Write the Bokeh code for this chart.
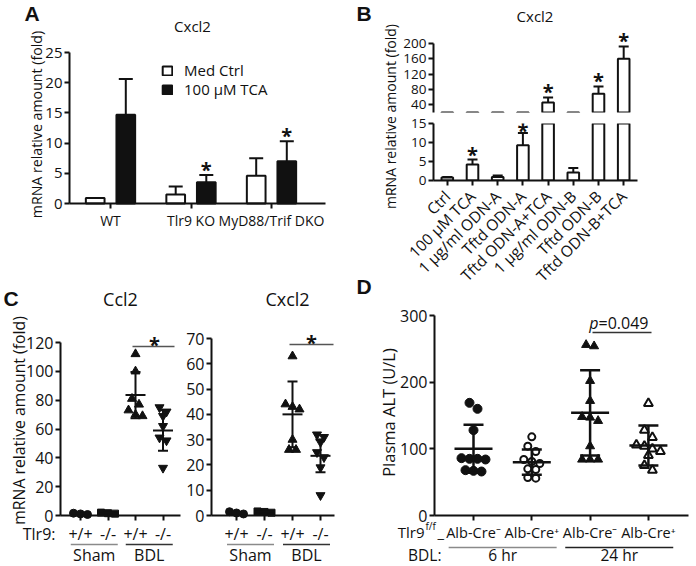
import math
import numpy as np
from bokeh.plotting import figure
from bokeh.layouts import row, column
from bokeh.models import Range1d, FixedTicker, Label, Arrow, Legend, LegendItem
from bokeh.embed import file_html
from bokeh.resources import INLINE
from bokeh.core.properties import value

# ------------------------------------------------------------------ data
# Panel A
a_groups = ["WT", "Tlr9 KO", "MyD88/Trif DKO"]
a_series = ["Med Ctrl", "100 μM TCA"]
a_ctrl_mean = [0.9, 1.5, 4.6]
a_ctrl_err = [0.0, 1.3, 2.9]
a_tca_mean = [14.7, 3.5, 7.0]
a_tca_err = [5.9, 1.2, 3.3]
a_tca_sig = [False, True, True]
a_yticks = [0, 5, 10, 15, 20, 25]
a_title = "Cxcl2"

# Panel B
b_cats = ["Ctrl", "100 μM TCA", "1 μg/ml ODN-A", "Tftd ODN-A", "Tftd ODN-A+TCA",
          "1 μg/ml ODN-B", "Tftd ODN-B", "Tftd ODN-B+TCA"]
b_mean = [0.8, 4.2, 0.9, 9.3, 46.0, 2.1, 69.0, 160.0]
b_err = [0.15, 1.3, 0.4, 3.2, 13.0, 1.2, 19.0, 32.0]
b_sig = [False, True, False, True, True, False, True, True]
b_low_ticks = [0, 5, 10, 15]
b_up_ticks = [40, 80, 120, 160, 200]
b_low_max = 15
b_up_min, b_up_max = 20, 200
b_title = "Cxcl2"

# Panel C
c_genotypes = ["+/+", "-/-", "+/+", "-/-"]
c_conditions = ["Sham", "BDL"]
c_prefix = "Tlr9:"
ccl2_points = [[0.7, 1.1, 1.6], [1.3, 1.6, 2.0],
               [112, 100, 81, 77, 73, 70, 69], [75, 72, 69, 62, 54, 52, 33]]
ccl2_mean = [1.1, 1.6, 83.5, 59.0]
ccl2_sd = [0.4, 0.3, 16.0, 14.0]
ccl2_yticks = [0, 20, 40, 60, 80, 100, 120]
cxcl2_points = [[0.6, 1.0, 1.5], [1.1, 1.4, 1.6],
                [63, 44, 43, 42, 30, 26, 26], [32, 31, 29, 25, 23, 19, 8]]
cxcl2_mean = [1.0, 1.4, 40.0, 23.6]
cxcl2_sd = [0.4, 0.2, 13.0, 6.5]
cxcl2_yticks = [0, 10, 20, 30, 40, 50, 60, 70]
c_titles = ["Ccl2", "Cxcl2"]

# Panel D
d_genotypes = ["Alb-Cre⁻", "Alb-Cre⁺", "Alb-Cre⁻", "Alb-Cre⁺"]
d_times = ["6 hr", "24 hr"]
d_points = [[169, 160, 128, 86, 85, 85, 84, 68, 67, 66],
            [118, 104, 96, 84, 81, 78, 70, 69, 57, 56],
            [256, 254, 202, 172, 148, 147, 142, 104, 84, 84, 84],
            [168, 128, 117, 106, 104, 100, 96, 90, 75, 68]]
d_mean = [100.0, 80.0, 154.0, 105.0]
d_sd = [36.0, 19.0, 64.0, 30.0]
d_yticks = [0, 100, 200, 300]
d_pvalue = "=0.049"

y_label = "mRNA relative amount (fold)"
d_ylabel = "Plasma ALT (U/L)"

# ------------------------------------------------------------------ style
FONT = "Open Sans"
LETTER_FONT = "Liberation Sans"
INK = "#111111"
GRAY = "#8a8a8a"


class Map:
    """page px -> data coords, given where the axes box (L,T,R,B) sits"""
    def __init__(self, frame, xr, yr):
        self.L, self.T, self.R, self.B = frame
        self.xr, self.yr = xr, yr

    def x(self, sx):
        return self.xr[0] + (sx - self.L) * (self.xr[1] - self.xr[0]) / (self.R - self.L)

    def y(self, sy):
        return self.yr[0] + (self.B - sy) * (self.yr[1] - self.yr[0]) / (self.B - self.T)

    def k(self):
        return (self.B - self.T) / (self.yr[1] - self.yr[0])

    def sy(self, y):
        return self.B - (y - self.yr[0]) * self.k()


def base_fig(p):
    p.grid.visible = False
    p.outline_line_color = None
    p.background_fill_color = "white"
    p.border_fill_color = "white"
    return p


def make_fig(box, frame, xr, yr, **kw):
    """ordinary figure: frame = axes box, axes in side panels"""
    fl, ft, fw, fh = box
    L, T, R, B = frame
    p = figure(width=fw, height=fh, x_range=Range1d(*xr), y_range=Range1d(*yr),
               output_backend="svg", toolbar_location=None, title=None,
               min_border_left=L - fl, min_border_right=fl + fw - R,
               min_border_top=T - ft, min_border_bottom=ft + fh - B, **kw)
    return base_fig(p), Map(frame, xr, yr)


def make_full(box, frame, xr, yr):
    """frame covers the whole canvas; axes drawn at fixed locations"""
    fl, ft, fw, fh = box
    m = Map(frame, xr, yr)
    p = figure(width=fw, height=fh,
               x_range=Range1d(m.x(fl), m.x(fl + fw)),
               y_range=Range1d(m.y(ft + fh), m.y(ft)),
               output_backend="svg", toolbar_location=None, title=None, min_border=0)
    base_fig(p)
    p.xaxis[0].fixed_location = yr[0]
    p.yaxis[0].fixed_location = xr[0]
    p.xaxis[0].bounds = tuple(xr)
    p.yaxis[0].bounds = tuple(yr)
    return p, m


def style_axis(ax, size, lw=2, standoff=2):
    ax.axis_line_color = INK
    ax.axis_line_width = lw
    ax.major_tick_line_color = INK
    ax.major_tick_line_width = lw
    ax.major_tick_in = 0
    ax.major_tick_out = 5
    ax.minor_tick_line_color = None
    ax.major_label_text_font = FONT
    ax.major_label_text_font_size = f"{size}px"
    ax.major_label_text_color = INK
    ax.major_label_standoff = standoff


def label(p, x, y, text, size, align="center", baseline="middle", angle=0.0,
          style="normal", font=FONT, color=INK):
    p.add_layout(Label(x=x, y=y, text=text, text_font=font, text_font_size=f"{size}px",
                       text_align=align, text_baseline=baseline, angle=angle,
                       text_font_style=style, text_color=color))


def hline(p, x0, x1, y, color, width=1.5):
    p.add_layout(Arrow(start=None, end=None, x_start=x0, y_start=y, x_end=x1, y_end=y,
                       line_color=color, line_width=width))


def up_err(p, xs, means, errs, cap, lw):
    keep = [i for i, e in enumerate(errs) if e > 0]
    xs2 = [xs[i] for i in keep]
    lo = [means[i] for i in keep]
    hi = [means[i] + errs[i] for i in keep]
    p.segment(x0=xs2, y0=lo, x1=xs2, y1=hi, line_color=INK, line_width=lw)
    p.scatter(x=xs2, y=hi, marker="dash", size=cap, line_color=INK, line_width=lw)


def stars(p, m, xs, tops, flags, lift_px=6, size=20, clamp=False):
    """asterisk just above each flagged error-bar top; kept inside the frame"""
    xs2, ys = [], []
    for x, t, f in zip(xs, tops, flags):
        if not f:
            continue
        lift = lift_px
        if clamp:
            lift = min(lift_px, (m.sy(t) - m.T) - 8)
        xs2.append(x)
        ys.append(t + lift / m.k())
    if not xs2:
        return
    p.text(x=xs2, y=ys, text=["*"] * len(xs2), text_font=value(FONT),
           text_font_size=f"{size}px", text_font_style="bold", text_align="center",
           text_baseline="alphabetic", text_color=INK)


def swarm_offsets(vals, k_px, spacing):
    order = sorted(range(len(vals)), key=lambda i: -vals[i])
    rows = []
    for i in order:
        if rows and (vals[rows[-1][0]] - vals[i]) * k_px < spacing:
            rows[-1].append(i)
        else:
            rows.append([i])
    offs = [0.0] * len(vals)
    for r in rows:
        n = len(r)
        for j, i in enumerate(r):
            offs[i] = (j - (n - 1) / 2) * spacing
    return offs


def dot_panel(p, step_px, k_px, points, means, sds, markers, fills, msize, lw_pt,
              spacing, mean_len, cap_len, lw):
    for i, vals in enumerate(points):
        offs = swarm_offsets(vals, k_px, spacing)
        xs = [i + o / step_px for o in offs]
        p.scatter(x=xs, y=vals, marker=markers[i], size=msize[i], fill_color=fills[i],
                  line_color=INK, line_width=lw_pt[i])
    gx = list(range(len(means)))
    lo = [m - s for m, s in zip(means, sds)]
    hi = [m + s for m, s in zip(means, sds)]
    p.segment(x0=gx, y0=lo, x1=gx, y1=hi, line_color=INK, line_width=lw)
    p.scatter(x=gx, y=means, marker="dash", size=mean_len, line_color=INK, line_width=lw)
    p.scatter(x=gx + gx, y=lo + hi, marker="dash", size=cap_len, line_color=INK, line_width=lw)


# ================================================================== Panel A
A_BOX = (0, 0, 340, 250)
A_FRAME = (69, 52, 325, 203)
A_C0, A_STEP = 110.0, 80.5
a_xr = ((A_FRAME[0] - A_C0) / A_STEP, (A_FRAME[2] - A_C0) / A_STEP)
pA, mA = make_full(A_BOX, A_FRAME, a_xr, (a_yticks[0], a_yticks[-1]))
gx = np.arange(len(a_groups))
off, bw = 15.3 / A_STEP, 18.7 / A_STEP
r_ctrl = pA.vbar(x=gx - off, top=a_ctrl_mean, bottom=0, width=bw, fill_color="white",
                 line_color=INK, line_width=2)
r_tca = pA.vbar(x=gx + off, top=a_tca_mean, bottom=0, width=bw, fill_color=INK,
                line_color=INK, line_width=2)
up_err(pA, list(gx - off), a_ctrl_mean, a_ctrl_err, 14, 2)
up_err(pA, list(gx + off), a_tca_mean, a_tca_err, 14, 2)
stars(pA, mA, list(gx + off), [m + e for m, e in zip(a_tca_mean, a_tca_err)], a_tca_sig)
style_axis(pA.yaxis[0], 15)
pA.yaxis[0].ticker = FixedTicker(ticks=a_yticks, minor_ticks=[])
style_axis(pA.xaxis[0], 14, standoff=2)
pA.xaxis[0].ticker = FixedTicker(ticks=list(range(len(a_groups))), minor_ticks=[])
pA.xaxis[0].major_label_overrides = {i: g for i, g in enumerate(a_groups)}
for rend, name, ly in [(r_ctrl, a_series[0], 170), (r_tca, a_series[1], 151)]:
    pA.add_layout(Legend(items=[LegendItem(label=name, renderers=[rend])],
                         location=(161, ly), border_line_color=None,
                         background_fill_alpha=0, padding=0, margin=0, spacing=0,
                         glyph_width=12, glyph_height=11, label_height=12,
                         label_standoff=11, label_text_font=FONT,
                         label_text_font_size="15px", label_text_color=INK))
label(pA, mA.x(192), mA.y(25), a_title, 15)
label(pA, mA.x(36), mA.y(124), y_label, 14.2, angle=math.pi / 2)
label(pA, mA.x(24), mA.y(1), "A", 21, align="left", baseline="top", style="bold",
      font=LETTER_FONT)

# ================================================================== Panel B
BL_BOX = (340, 0, 60, 296)
pBL = figure(width=BL_BOX[2], height=BL_BOX[3], x_range=Range1d(340, 400),
             y_range=Range1d(296, 0), x_axis_type=None, y_axis_type=None,
             output_backend="svg", toolbar_location=None, title=None, min_border=0)
base_fig(pBL)
label(pBL, 356, 1, "B", 21, align="left", baseline="top", style="bold", font=LETTER_FONT)
label(pBL, 390, 116, y_label, 14, angle=math.pi / 2)
label(pBL, 356, 274, "D", 21, align="left", baseline="top", style="bold", font=LETTER_FONT)

B_C0, B_STEP = 444.0, 25.57
B_UP_BOX, B_LOW_BOX = (400, 0, 296, 113), (400, 113, 296, 183)
B_UP_FRAME = (430, 0, 637, 112)      # frame reaches the canvas top (title inside)
B_LOW_FRAME = (430, 123, 637, 192)
B_UP_PX = 69.0  # pixel height of the 20..200 segment
b_xr = ((430 - B_C0) / B_STEP, (637 - B_C0) / B_STEP)
k_up = B_UP_PX / (b_up_max - b_up_min)
b_up_yr = (b_up_min, b_up_min + (B_UP_FRAME[3] - B_UP_FRAME[1]) / k_up)
pBu, mBu = make_fig(B_UP_BOX, B_UP_FRAME, b_xr, b_up_yr, x_axis_location=None)
pBd, mBd = make_fig(B_LOW_BOX, B_LOW_FRAME, b_xr, (0, b_low_max))
bx = list(range(len(b_cats)))
b_tops = [m + e for m, e in zip(b_mean, b_err)]
for p, mm, in_seg in ((pBu, mBu, lambda t: t > b_up_min),
                      (pBd, mBd, lambda t: t <= b_low_max)):
    p.vbar(x=bx, top=b_mean, bottom=0, width=0.46, fill_color="white", line_color=INK,
           line_width=2)
    up_err(p, bx, b_mean, b_err, 10, 2)
    stars(p, mm, bx, b_tops, [s and in_seg(t) for s, t in zip(b_sig, b_tops)], clamp=True)
style_axis(pBu.yaxis[0], 13.5)
pBu.yaxis[0].ticker = FixedTicker(ticks=b_up_ticks, minor_ticks=[])
pBu.yaxis[0].bounds = (b_up_min, b_up_max)
style_axis(pBd.yaxis[0], 13.5)
pBd.yaxis[0].ticker = FixedTicker(ticks=b_low_ticks, minor_ticks=[])
style_axis(pBd.xaxis[0], 15.5, standoff=8)
pBd.xaxis[0].ticker = FixedTicker(ticks=bx, minor_ticks=[])
pBd.xaxis[0].major_label_overrides = {i: c for i, c in enumerate(b_cats)}
pBd.xaxis[0].major_label_orientation = math.pi / 4
label(pBu, mBu.x(533), mBu.y(15), b_title, 15)

# ================================================================== Panel C
C1_BOX, C1_FRAME = (0, 250, 185, 316), (60, 342, 180, 515)
C2_BOX, C2_FRAME = (185, 250, 155, 316), (211, 338, 334, 515)
C1_C0, C1_STEP = 80.0, 27.5
C2_C0, C2_STEP = 236.0, 28.0
c_markers = ["circle", "square", "triangle", "inverted_triangle"]
c_fills = [INK] * 4

panels_c = []
for (box, frame, c0, step, pts, mu, sd, ticks, title, tx, sig) in [
        (C1_BOX, C1_FRAME, C1_C0, C1_STEP, ccl2_points, ccl2_mean, ccl2_sd,
         ccl2_yticks, c_titles[0], 120, (132, 174, 346, 154)),
        (C2_BOX, C2_FRAME, C2_C0, C2_STEP, cxcl2_points, cxcl2_mean, cxcl2_sd,
         cxcl2_yticks, c_titles[1], 287, (289, 333, 344, 311))]:
    L, T, R, B = frame
    xr = ((L - c0) / step, (R - c0) / step)
    yr = (ticks[0], ticks[-1])
    k = (B - T) / (ticks[-1] - ticks[0])
    p, m = make_full(box, frame, xr, yr)
    dot_panel(p, step, k, pts, mu, sd, c_markers, c_fills, [8, 7, 9, 9], [1, 1, 1, 1],
              7, 20, 10, 2)
    style_axis(p.yaxis[0], 16)
    p.yaxis[0].ticker = FixedTicker(ticks=ticks, minor_ticks=[])
    style_axis(p.xaxis[0], 16, standoff=2)
    p.xaxis[0].ticker = FixedTicker(ticks=list(range(len(c_genotypes))), minor_ticks=[])
    p.xaxis[0].major_label_overrides = {i: g for i, g in enumerate(c_genotypes)}
    # significance bar between the two BDL groups
    sx0, sx1, sy, sstar = sig
    hline(p, m.x(sx0), m.x(sx1), m.y(sy), "#555555", 1.3)
    label(p, m.x(sstar), m.y(sy - 2), "*", 20, baseline="alphabetic", style="bold")
    # group underlines and names
    for gi, (cond, col) in enumerate(zip(c_conditions, [GRAY, "#333333"])):
        gc = 2 * gi + 0.5
        hline(p, gc - 23.5 / step, gc + 23.5 / step, m.y(544), col, 1.5)
        label(p, gc, m.y(554), cond, 16)
    label(p, m.x(tx), m.y(298), title, 18)
    panels_c.append((p, m))

pC1, mC1 = panels_c[0]
pC2, mC2 = panels_c[1]
label(pC1, mC1.x(55), mC1.y(533), c_prefix, 16, align="right")
label(pC1, mC1.x(18), mC1.y(420), y_label, 15.8, angle=math.pi / 2)
label(pC1, mC1.x(3), mC1.y(286), "C", 21, align="left", baseline="top", style="bold",
      font=LETTER_FONT)

# ================================================================== Panel D
D_BOX, D_FRAME = (340, 296, 356, 270), (434, 315, 688, 515)
D_C0, D_STEP = 473.0, 58.3
k_d = (D_FRAME[3] - D_FRAME[1]) / (d_yticks[-1] - d_yticks[0])
d_xr = ((D_FRAME[0] - D_C0) / D_STEP, (D_FRAME[2] - D_C0) / D_STEP)
pD, mD = make_full(D_BOX, D_FRAME, d_xr, (d_yticks[0], d_yticks[-1]))
dot_panel(pD, D_STEP, k_d, d_points, d_mean, d_sd,
          ["circle", "circle", "triangle", "triangle"], [INK, "white", INK, "white"],
          [9, 7, 9, 9], [1, 2, 1, 2], 8, 38, 20, 2.5)
style_axis(pD.yaxis[0], 16)
pD.yaxis[0].ticker = FixedTicker(ticks=d_yticks, minor_ticks=[])
style_axis(pD.xaxis[0], 14.5, standoff=2)
pD.xaxis[0].ticker = FixedTicker(ticks=list(range(len(d_genotypes))), minor_ticks=[])
pD.xaxis[0].major_label_overrides = {i: g for i, g in enumerate(d_genotypes)}
# p value bracket
hline(pD, mD.x(592), mD.x(651), mD.y(332), "#333333", 1.3)
pD.text(x=[mD.x(598)], y=[mD.y(322)], text=["p"], text_font=value(FONT),
        text_font_size="16px", text_font_style="italic", text_align="right",
        text_baseline="middle", text_color=INK)
pD.text(x=[mD.x(598)], y=[mD.y(322)], text=[d_pvalue], text_font=value(FONT),
        text_font_size="16px", text_align="left", text_baseline="middle", text_color=INK)
for gi, (t, col) in enumerate(zip(d_times, [GRAY, "#222222"])):
    gc = 2 * gi + 0.5
    hline(pD, gc - 54 / D_STEP, gc + 54 / D_STEP, mD.y(547), col, 1.5)
    label(pD, gc, mD.y(554), t, 15.5)
label(pD, mD.x(441), mD.y(554), "BDL:", 15.5, align="right")
label(pD, mD.x(424), mD.y(531), "Tlr9", 15, align="right")
label(pD, mD.x(425), mD.y(525), "f/f", 10, align="left")
label(pD, mD.x(437), mD.y(531), "_", 15, align="left")
label(pD, mD.x(388), mD.y(412), d_ylabel, 16.5, angle=math.pi / 2)

# ================================================================== layout
left = column(pA, row(pC1, pC2, spacing=0), spacing=0)
right = column(row(pBL, column(pBu, pBd, spacing=0), spacing=0), pD, spacing=0)
root = row(left, right, spacing=0)

open("out.html", "w").write(file_html(root, INLINE))
